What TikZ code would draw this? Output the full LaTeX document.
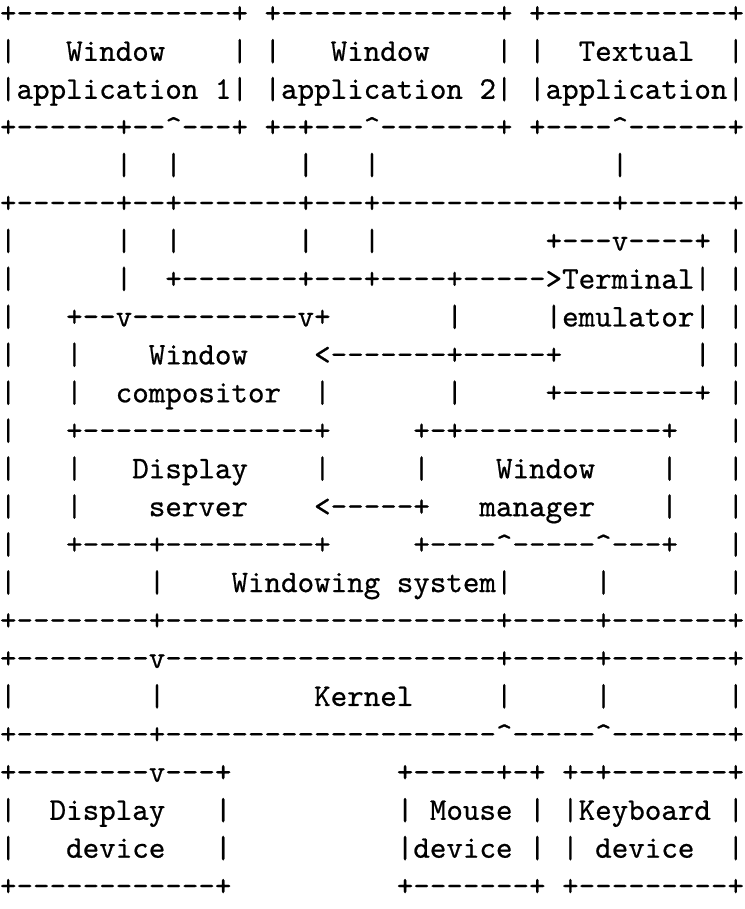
\documentclass[tikz,border=0pt]{standalone}
\usepackage{fontspec}
% Latin Modern Mono, set a little heavier
\setmonofont{lmmono10-regular.otf}[FakeBold=0.6]
% Character-cell layout of a box diagram in a monospaced font.
\newlength\chw
\AtBeginDocument{\settowidth\chw{\ttfamily x}}
\ExplSyntaxOn
% a run of #1 hyphens, kept apart so that no ligature can form
\cs_new:Npn \dashrun #1 { \prg_replicate:nn {#1} { - \kern 0pt } }
\ExplSyntaxOff
\newcommand\hy[1]{\dashrun{#1}}
\newcommand\gap[1]{\hspace*{#1\chw}}
\newcommand\up{\textasciicircum}
\tikzset{
  row/.style={anchor=base west, inner sep=0pt, outer sep=0pt, font=\ttfamily, text=black},
}
\begin{document}
\begin{tikzpicture}
\fill[white] (0pt,0pt) rectangle (236.25pt,-288.64pt);
\useasboundingbox (0pt,0pt) rectangle (236.25pt,-288.64pt);
% applications
\node[row] (r1)  at (0pt,-7.26pt)   {+\hy{13}+\gap{1}+\hy{13}+\gap{1}+\hy{11}+};
\node[row] (r2)  at (0pt,-19.31pt)  {|\gap{3}Window\gap{4}|\gap{1}|\gap{3}Window\gap{4}|\gap{1}|\gap{2}Textual\gap{2}|};
\node[row] (r3)  at (0pt,-31.36pt)  {|application 1|\gap{1}|application 2|\gap{1}|application|};
\node[row] (r4)  at (0pt,-43.41pt)  {+\hy{6}+\hy{2}\up\hy{3}+\gap{1}+\hy{1}+\hy{3}\up\hy{7}+\gap{1}+\hy{4}\up\hy{6}+};
\node[row] (r5)  at (0pt,-55.46pt)  {\gap{7}|\gap{2}|\gap{7}|\gap{3}|\gap{14}|};
% windowing system
\node[row] (r6)  at (0pt,-67.51pt)  {+\hy{6}+\hy{2}+\hy{7}+\hy{3}+\hy{14}+\hy{6}+};
\node[row] (r7)  at (0pt,-79.56pt)  {|\gap{6}|\gap{2}|\gap{7}|\gap{3}|\gap{10}+\hy{3}v\hy{4}+\gap{1}|};
\node[row] (r8)  at (0pt,-91.61pt)  {|\gap{6}|\gap{2}+\hy{7}+\hy{3}+\hy{4}+\hy{5}>Terminal|\gap{1}|};
\node[row] (r9)  at (0pt,-103.66pt) {|\gap{3}+\hy{2}v\hy{10}v+\gap{7}|\gap{5}|emulator|\gap{1}|};
\node[row] (r10) at (0pt,-115.71pt) {|\gap{3}|\gap{4}Window\gap{4}<\hy{7}+\hy{5}+\gap{8}|\gap{1}|};
\node[row] (r11) at (0pt,-127.76pt) {|\gap{3}|\gap{2}compositor\gap{2}|\gap{7}|\gap{5}+\hy{8}+\gap{1}|};
\node[row] (r12) at (0pt,-139.81pt) {|\gap{3}+\hy{14}+\gap{5}+\hy{1}+\hy{12}+\gap{3}|};
\node[row] (r13) at (0pt,-151.86pt) {|\gap{3}|\gap{3}Display\gap{4}|\gap{5}|\gap{4}Window\gap{4}|\gap{3}|};
\node[row] (r14) at (0pt,-163.91pt) {|\gap{3}|\gap{4}server\gap{4}<\hy{5}+\gap{3}manager\gap{4}|\gap{3}|};
\node[row] (r15) at (0pt,-175.96pt) {|\gap{3}+\hy{4}+\hy{9}+\gap{5}+\hy{4}\up\hy{5}\up\hy{3}+\gap{3}|};
\node[row] (r16) at (0pt,-188.01pt) {|\gap{8}|\gap{4}Windowing system|\gap{5}|\gap{7}|};
\node[row] (r17) at (0pt,-200.06pt) {+\hy{8}+\hy{20}+\hy{5}+\hy{7}+};
% kernel
\node[row] (r18) at (0pt,-212.11pt) {+\hy{8}v\hy{20}+\hy{5}+\hy{7}+};
\node[row] (r19) at (0pt,-224.16pt) {|\gap{8}|\gap{9}Kernel\gap{5}|\gap{5}|\gap{7}|};
\node[row] (r20) at (0pt,-236.21pt) {+\hy{8}+\hy{20}\up\hy{5}\up\hy{7}+};
% devices
\node[row] (r21) at (0pt,-248.26pt) {+\hy{8}v\hy{3}+\gap{10}+\hy{5}+\hy{1}+\gap{1}+\hy{1}+\hy{7}+};
\node[row] (r22) at (0pt,-260.31pt) {|\gap{2}Display\gap{3}|\gap{10}|\gap{1}Mouse\gap{1}|\gap{1}|Keyboard\gap{1}|};
\node[row] (r23) at (0pt,-272.36pt) {|\gap{3}device\gap{3}|\gap{10}|device\gap{1}|\gap{1}|\gap{1}device\gap{2}|};
\node[row] (r24) at (0pt,-284.41pt) {+\hy{12}+\gap{10}+\hy{7}+\gap{1}+\hy{9}+};
\end{tikzpicture}
\end{document}
